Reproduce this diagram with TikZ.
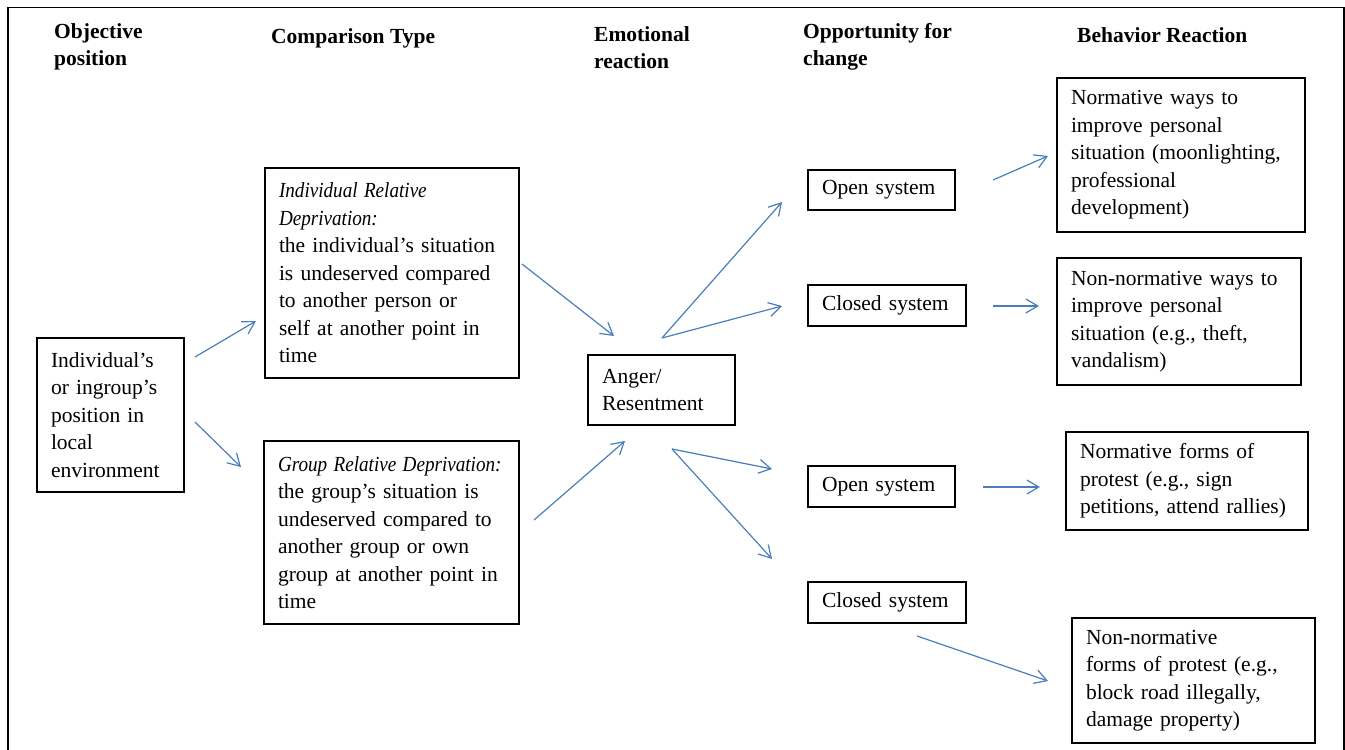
\documentclass[tikz,border=0pt]{standalone}
\usepackage{fontspec}
\setmainfont{Liberation Serif}
\usetikzlibrary{arrows.meta}
\definecolor{arrowblue}{RGB}{74,126,187}
\newcommand{\bodyfont}{\fontsize{21.5}{27.5}\selectfont}
\newcommand{\itn}[1]{\scalebox{0.89}[1]{\itshape #1}}
\tikzset{
  box/.style={draw, line width=1.1pt, inner xsep=14pt, inner ysep=0pt, align=left, font=\bodyfont},
  header/.style={anchor=north west, inner sep=0pt, align=left, font=\bodyfont\bfseries},
  link/.style={draw=arrowblue, line width=1.2pt, -{Straight Barb[length=12pt,width=14pt,line width=1.2pt]}},
}
\begin{document}
\begin{tikzpicture}[x=1pt,y=-1pt]
\useasboundingbox (0,0) rectangle (1345,750);
% outer frame
\draw[line width=1.5pt] (8,752) -- (8,7.5) -- (1344,7.5) -- (1344,752);

% headers
\node[header] (h1) at (54,23) {Objective\\position};
\node[header] (h2) at (271,28) {Comparison Type};
\node[header] (h3) at (594,26) {Emotional\\reaction};
\node[header] (h4) at (803,23) {Opportunity for\\change};
\node[header] (h5) at (1077,27) {Behavior Reaction};

% boxes
\node[box, text width=119pt, minimum height=154pt] (pos) at (110.5,415) {Individual's\\or ingroup's\\position in\\local\\environment};
\node[box, text width=226pt, minimum height=210pt] (ird) at (392,273) {\itn{Individual Relative}\\\itn{Deprivation:}\\the individual's situation\\is undeserved compared\\to another person or\\self at another point in\\time};
\node[box, text width=227pt, minimum height=183pt] (grd) at (391.5,532.5) {\itn{Group Relative Deprivation:}\\the group's situation is\\undeserved compared to\\another group or own\\group at another point in\\time};
\node[box, text width=119pt, minimum height=70pt] (anger) at (661.5,390) {Anger/\\Resentment};
\node[box, text width=119pt, minimum height=40pt] (open1) at (881.5,190) {Open system};
\node[box, text width=130pt, minimum height=41pt] (closed1) at (887,305.5) {Closed system};
\node[box, text width=119pt, minimum height=41pt] (open2) at (881.5,486.5) {Open system};
\node[box, text width=130pt, minimum height=41pt] (closed2) at (887,602.5) {Closed system};
\node[box, text width=220pt, minimum height=154pt] (nw) at (1181,155) {Normative ways to\\improve personal\\situation (moonlighting,\\professional\\development)};
\node[box, text width=216pt, minimum height=127pt] (nnw) at (1179,321.5) {Non-normative ways to\\improve personal\\situation (e.g., theft,\\vandalism)};
\node[box, text width=214pt, minimum height=98pt] (np) at (1187,481) {Normative forms of\\protest (e.g., sign\\petitions, attend rallies)};
\node[box, text width=215pt, minimum height=125pt] (nnp) at (1193.5,680.5) {Non-normative\\forms of protest (e.g.,\\block road illegally,\\damage property)};

% arrow end points
\coordinate (a1s) at (195,357);  \coordinate (a1e) at (256,321);
\coordinate (a2s) at (195,422);  \coordinate (a2e) at (241,467);
\coordinate (a3s) at (522,264);  \coordinate (a3e) at (614,336);
\coordinate (a4s) at (534,520);  \coordinate (a4e) at (625,441);
\coordinate (a5s) at (662,338);  \coordinate (a5e) at (782,202);
\coordinate (a6e) at (782,306);
\coordinate (a7s) at (672,449);  \coordinate (a7e) at (772,469);
\coordinate (a8e) at (772,559);
\coordinate (a9s) at (993,180);  \coordinate (a9e) at (1048,156);
\coordinate (a10s) at (993,306); \coordinate (a10e) at (1039,306);
\coordinate (a11s) at (983,487); \coordinate (a11e) at (1040,487);
\coordinate (a12s) at (917,636); \coordinate (a12e) at (1048,681);

\draw[link] (a1s) -- (a1e);
\draw[link] (a2s) -- (a2e);
\draw[link] (a3s) -- (a3e);
\draw[link] (a4s) -- (a4e);
\draw[link] (a5s) -- (a5e);
\draw[link] (a5s) -- (a6e);
\draw[link] (a7s) -- (a7e);
\draw[link] (a7s) -- (a8e);
\draw[link] (a9s) -- (a9e);
\draw[link] (a10s) -- (a10e);
\draw[link] (a11s) -- (a11e);
\draw[link] (a12s) -- (a12e);
\end{tikzpicture}
\end{document}
